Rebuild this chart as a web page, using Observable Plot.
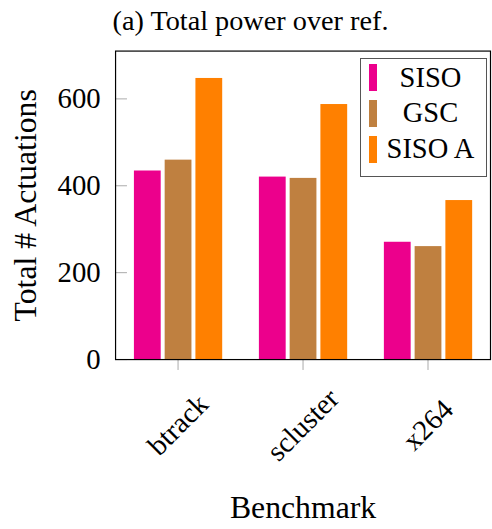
<!DOCTYPE html>
<html>
<head>
<meta charset="utf-8">
<script src="https://cdn.jsdelivr.net/npm/d3@7"></script>
<script src="https://cdn.jsdelivr.net/npm/@observablehq/plot@0.6"></script>
<style>
  html, body { margin: 0; padding: 0; overflow: hidden; background: white; }
  #wrap { position: relative; width: 492px; height: 529px; overflow: hidden; }
  #legend {
    position: absolute; left: 360px; top: 58px; width: 125px; height: 116px;
    border: 1px solid #555; background: white; box-sizing: content-box;
    font-family: "Times New Roman", "Liberation Serif", Times, "DejaVu Serif", serif; font-size: 28.5px; color: #000;
    padding-top: 1px;
  }
  .row { height: 35.7px; display: flex; align-items: center; }
  .sw { width: 8.5px; height: 27px; margin-left: 7.5px; flex: none; }
  .lab { flex: 1; text-align: center; line-height: 1; padding-right: 2px; }
</style>
</head>
<body>
<div id="wrap"></div>
<script>
const benchmarks = ["btrack", "scluster", "x264"];
const series = ["SISO", "GSC", "SISO A"];
const colors = ["#EC008C", "#BF8040", "#FF8000"];
const sisoValues = [434, 420, 270];
const gscValues = [459, 417, 260];
const sisoAValues = [647, 587, 366];
const yTicks = [0, 200, 400, 600];
const yMax = 710;
const title = "(a) Total power over ref.";
const yLabel = "Total # Actuations";
const xLabel = "Benchmark";

const valuesBySeries = [sisoValues, gscValues, sisoAValues];
const data = [];
benchmarks.forEach((b, i) => {
  series.forEach((s, j) => data.push({benchmark: b, series: s, value: valuesBySeries[j][i]}));
});

const serif = "'Times New Roman', 'Liberation Serif', Times, 'DejaVu Serif', serif";

const chart = Plot.plot({
  width: 496,
  height: 529,
  marginLeft: 115,
  marginRight: 1,
  marginTop: 51,
  marginBottom: 167,
  style: {fontFamily: serif, background: "white", color: "black", overflow: "visible"},
  fx: {domain: benchmarks, padding: 0, axis: null},
  x: {domain: series, paddingInner: 0.134, paddingOuter: 0.546, axis: null},
  y: {domain: [0, yMax], axis: null},
  color: {domain: series, range: colors},
  marks: [
    Plot.barY(data, {fx: "benchmark", x: "series", y: "value", fill: "series"}),
    Plot.axisY(yTicks, {anchor: "left", tickSize: -12, stroke: "#aaa", fill: "none", label: null}),
    Plot.axisY(yTicks, {anchor: "left", tickSize: 0, tickPadding: 15, fontSize: 29, label: null}),
    Plot.axisFx({anchor: "bottom", tickSize: 11, stroke: "#aaa", fill: "none", label: null}),
    Plot.text(benchmarks, {fx: d => d, text: d => d, frameAnchor: "bottom", dy: 66, rotate: -45, fontSize: 29, lineAnchor: "middle", textAnchor: "middle"}),
    Plot.frame({facet: "super", stroke: "black", strokeWidth: 1.2}),
    Plot.text([yLabel], {facet: "super", frameAnchor: "left", dx: -90, rotate: -90, fontSize: 32, lineAnchor: "middle", textAnchor: "middle"}),
    Plot.text([xLabel], {facet: "super", frameAnchor: "bottom", dy: 149, fontSize: 32, lineAnchor: "middle", textAnchor: "middle"}),
    Plot.text([title], {facet: "super", frameAnchor: "top", dx: -53, dy: -30, fontSize: 28.5, lineAnchor: "middle", textAnchor: "middle"})
  ]
});

const wrap = document.getElementById("wrap");
wrap.appendChild(chart);

const legend = document.createElement("div");
legend.id = "legend";
series.forEach((s, i) => {
  const row = document.createElement("div");
  row.className = "row";
  const sw = document.createElement("div");
  sw.className = "sw";
  sw.style.background = colors[i];
  const lab = document.createElement("div");
  lab.className = "lab";
  lab.textContent = s;
  row.appendChild(sw);
  row.appendChild(lab);
  legend.appendChild(row);
});
wrap.appendChild(legend);
</script>
</body>
</html>
